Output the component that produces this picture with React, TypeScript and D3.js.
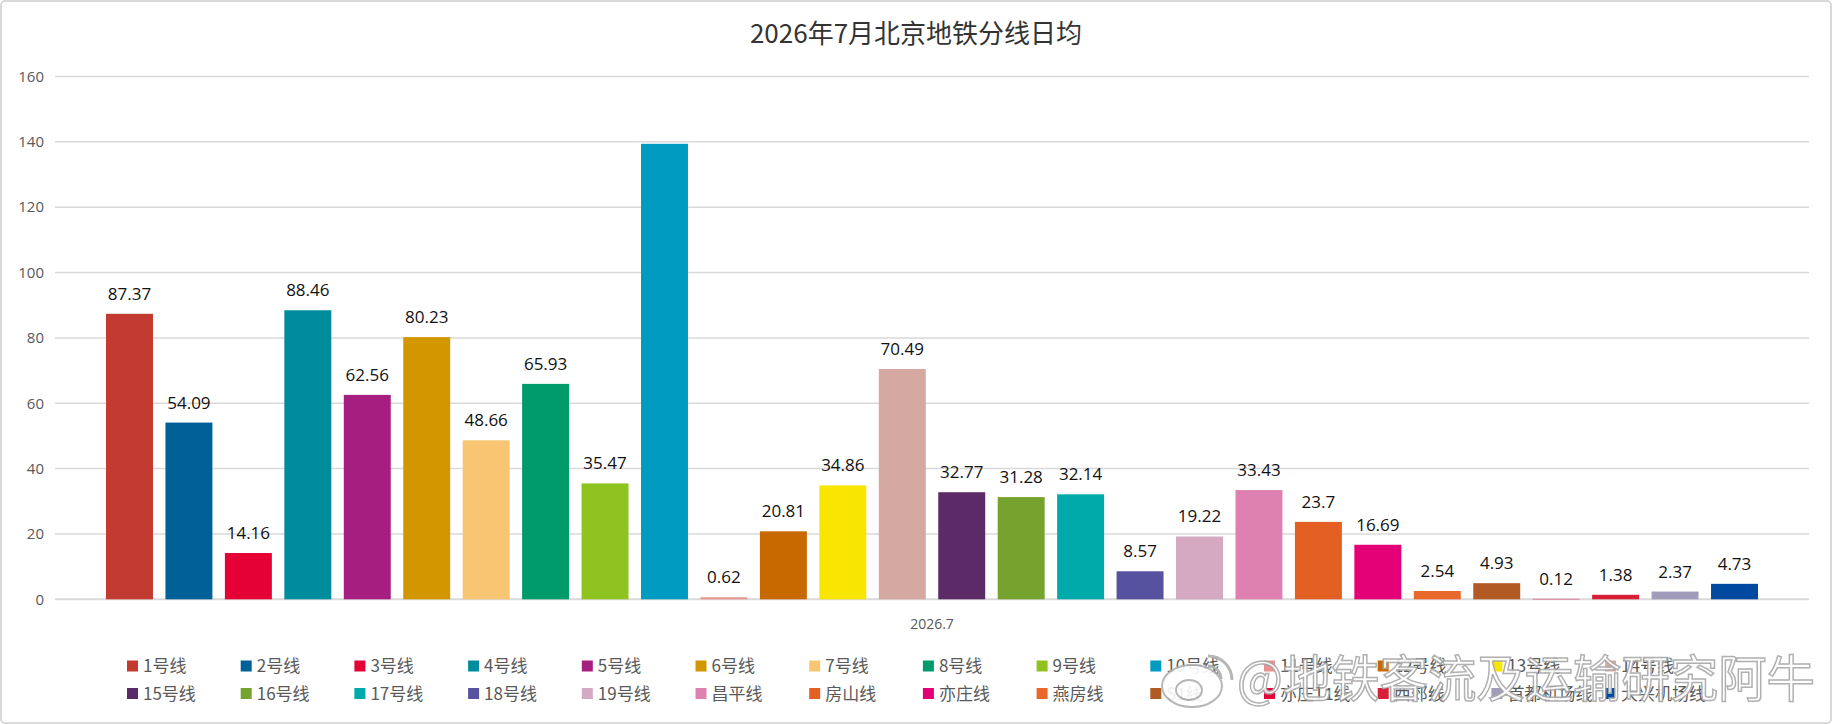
import { useEffect, useRef } from 'react'
import * as d3 from 'd3'

// 2026年7月 北京地铁分线日均客流 (万人次)
const lineNames = [
  '1号线', '2号线', '3号线', '4号线', '5号线', '6号线', '7号线',
  '8号线', '9号线', '10号线', '11号线', '12号线', '13号线', '14号线',
  '15号线', '16号线', '17号线', '18号线', '19号线', '昌平线', '房山线',
  '亦庄线', '燕房线', 'S1线', '亦庄T1线', '西郊线', '首都机场线', '大兴机场线',
]

const dailyAvg = [
  87.37, 54.09, 14.16, 88.46, 62.56, 80.23, 48.66,
  65.93, 35.47, 139.4, 0.62, 20.81, 34.86, 70.49,
  32.77, 31.28, 32.14, 8.57, 19.22, 33.43, 23.7,
  16.69, 2.54, 4.93, 0.12, 1.38, 2.37, 4.73,
]

// 10号线 has no label in the original
const labelText = dailyAvg.map((v, i) => (lineNames[i] === '10号线' ? '' : String(v)))

const lineColors = [
  '#c23a30', '#006098', '#e50035', '#008c9c', '#a51e80', '#d29700', '#f8c673',
  '#009b6b', '#8fc31f', '#009bc1', '#e8948e', '#c86900', '#f8e600', '#d5a8a2',
  '#5b2a67', '#76a32e', '#00a9aa', '#5652a0', '#d6a9c3', '#de81b0', '#e46022',
  '#e40077', '#e8672b', '#b15a24', '#e60039', '#d71f35', '#a29cbb', '#0049a0',
]

const yTicks = [0, 20, 40, 60, 80, 100, 120, 140, 160]
const category = '2026.7'
const title = '2026年7月北京地铁分线日均'
const watermark = '@地铁客流及运输研究阿牛'

const App = () => {
  const svgRef = useRef<SVGSVGElement | null>(null)

  useEffect(() => {
    document.body.style.margin = '0'
    if (!svgRef.current) return
    const svg = d3.select(svgRef.current)
    svg.selectAll('*').remove()

    const width = 1832
    const height = 724
    const plot = { left: 55, right: 1809, top: 76.5, bottom: 599.3 }
    const cjk = '"Noto Sans CJK SC", "Noto Sans", sans-serif'
    const num = '"Open Sans", "Noto Sans", sans-serif'

    svg.attr('width', width).attr('height', height)

    // background + frame
    svg.append('rect')
      .attr('x', 1).attr('y', 1)
      .attr('width', width - 2).attr('height', height - 2)
      .attr('rx', 4)
      .attr('fill', 'white')
      .attr('stroke', '#d9d9d9')
      .attr('stroke-width', 2)

    // title
    svg.append('text')
      .attr('x', 916).attr('y', 43)
      .attr('text-anchor', 'middle')
      .attr('font-family', cjk)
      .attr('font-size', '26px')
      .attr('fill', '#333')
      .text(title)

    const y = d3.scaleLinear().domain([0, 160]).range([plot.bottom, plot.top])

    // bars packed inside the single category
    const x = d3.scaleBand<string>()
      .domain(lineNames)
      .range([plot.left + 51, plot.right - 51])
      .paddingInner(0.21)
      .paddingOuter(0)

    // gridlines
    svg.append('g')
      .selectAll('line')
      .data(yTicks)
      .join('line')
      .attr('x1', plot.left).attr('x2', plot.right)
      .attr('y1', (d) => y(d)).attr('y2', (d) => y(d))
      .attr('stroke', '#d9d9d9')
      .attr('stroke-width', (d) => (d === 0 ? 2 : 1.5))

    // y tick labels
    svg.append('g')
      .selectAll('text')
      .data(yTicks)
      .join('text')
      .attr('x', 44)
      .attr('y', (d) => y(d))
      .attr('dy', '0.35em')
      .attr('text-anchor', 'end')
      .attr('font-family', num)
      .attr('font-size', '15px')
      .attr('fill', '#595959')
      .text((d) => d)

    // bars
    svg.append('g')
      .selectAll('rect')
      .data(dailyAvg)
      .join('rect')
      .attr('x', (_, i) => x(lineNames[i])!)
      .attr('y', (d) => y(d))
      .attr('width', x.bandwidth())
      .attr('height', (d) => y(0) - y(d))
      .attr('fill', (_, i) => lineColors[i])

    // value labels
    svg.append('g')
      .selectAll('text')
      .data(dailyAvg)
      .join('text')
      .attr('x', (_, i) => x(lineNames[i])! + x.bandwidth() / 2)
      .attr('y', (d) => y(d) - 14)
      .attr('text-anchor', 'middle')
      .attr('font-family', num)
      .attr('font-size', '17px')
      .attr('fill', '#111')
      .text((_, i) => labelText[i])

    // category label
    svg.append('text')
      .attr('x', (plot.left + plot.right) / 2)
      .attr('y', 629)
      .attr('text-anchor', 'middle')
      .attr('font-family', num)
      .attr('font-size', '14px')
      .attr('fill', '#595959')
      .text(category)

    // legend, two rows of 14
    const perRow = 14
    const legend = svg.append('g')
      .selectAll('g')
      .data(lineNames)
      .join('g')
      .attr('transform', (_, i) =>
        `translate(${127 + (i % perRow) * 113.7}, ${666.5 + Math.floor(i / perRow) * 27.5})`)

    legend.append('rect')
      .attr('x', 0).attr('y', -6)
      .attr('width', 11).attr('height', 11)
      .attr('fill', (_, i) => lineColors[i])

    legend.append('text')
      .attr('x', 16)
      .attr('dy', '0.35em')
      .attr('font-family', cjk)
      .attr('font-size', '17px')
      .attr('fill', '#595959')
      .text((d) => d)

    // weibo watermark
    const wm = svg.append('g').attr('opacity', 0.9)
    wm.append('ellipse')
      .attr('cx', 1192).attr('cy', 686)
      .attr('rx', 30).attr('ry', 21)
      .attr('fill', 'white')
      .attr('stroke', '#b0b0b0')
      .attr('stroke-width', 2)
    wm.append('ellipse')
      .attr('cx', 1189).attr('cy', 690)
      .attr('rx', 13).attr('ry', 10)
      .attr('fill', 'none')
      .attr('stroke', '#b0b0b0')
      .attr('stroke-width', 2)
    wm.append('path')
      .attr('d', 'M1208,656 a24,24 0 0 1 24,24 M1208,666 a13,13 0 0 1 13,13')
      .attr('fill', 'none')
      .attr('stroke', '#b0b0b0')
      .attr('stroke-width', 3)
    wm.append('text')
      .attr('x', 1237).attr('y', 697)
      .attr('font-family', cjk)
      .attr('font-size', '50px')
      .attr('textLength', 578)
      .attr('lengthAdjust', 'spacingAndGlyphs')
      .attr('fill', 'white')
      .attr('stroke', '#a8a8a8')
      .attr('stroke-width', 1.5)
      .text(watermark)
  }, [])

  return <svg ref={svgRef} style={{ display: 'block' }}></svg>
}

export default App
